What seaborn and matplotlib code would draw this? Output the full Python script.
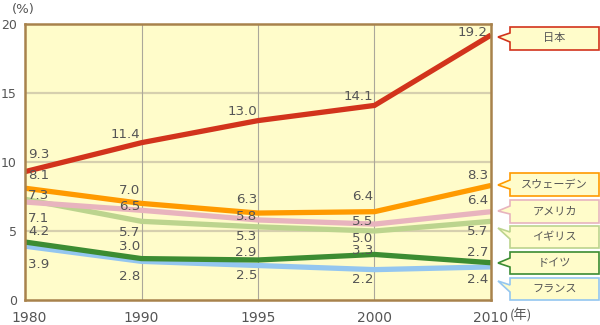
import matplotlib
matplotlib.use("Agg")
import matplotlib.pyplot as plt
import matplotlib.transforms as mtransforms
import seaborn as sns
import pandas as pd
from matplotlib.patches import Polygon

years = ["1980", "1990", "1995", "2000", "2010"]
countries = ["日本", "スウェーデン", "アメリカ", "イギリス", "ドイツ", "フランス"]
japan = [9.3, 11.4, 13.0, 14.1, 19.2]
sweden = [8.1, 7.0, 6.3, 6.4, 8.3]
usa = [7.1, 6.5, 5.8, 5.5, 6.4]
uk = [7.3, 5.7, 5.3, 5.0, 5.7]
germany = [4.2, 3.0, 2.9, 3.3, 2.7]
france = [3.9, 2.8, 2.5, 2.2, 2.4]
series = [japan, sweden, usa, uk, germany, france]

colors = {"日本": "#D2331C", "スウェーデン": "#FF9A00", "アメリカ": "#E8B4BE",
          "イギリス": "#BCD48E", "ドイツ": "#3C8C32", "フランス": "#94C6F0"}

# label offsets in pixels (positive = up)
label_dy = {
    "日本": [17, 8, 9, 9, 3],
    "スウェーデン": [13, 13, 14, 15, 10],
    "アメリカ": [-16, 4, 3, 3, 11],
    "イギリス": [4, -11, -10, -7, -10],
    "ドイツ": [11, 12, 7, 4, 10],
    "フランス": [-18, -15, -10, -10, -13],
}

rows = []
for c, vals in zip(countries, series):
    for i, v in enumerate(vals):
        rows.append({"country": c, "pos": i, "value": v})
df = pd.DataFrame(rows)

sns.set_theme(style="white")
plt.rcParams["font.family"] = ["DejaVu Sans", "Noto Sans CJK JP"]

W, H = 600, 325
fig = plt.figure(figsize=(6, 3.25), dpi=100)
ax = fig.add_axes([25 / W, 25 / H, 466 / W, 276 / H])
ax.set_facecolor("#FFFCCA")

for y in [5, 10, 15]:
    ax.axhline(y, color="#D6CFAE", lw=1.6, zorder=0)
for x in [1, 2, 3]:
    ax.axvline(x, color="#ABA79A", lw=0.8, zorder=0)

draw_order = ["フランス", "ドイツ", "イギリス", "アメリカ", "スウェーデン", "日本"]
sns.lineplot(data=df, x="pos", y="value", hue="country", hue_order=draw_order,
             palette=colors, linewidth=3.8, legend=False, ax=ax, zorder=3)
for line in ax.get_lines():
    line.set_solid_capstyle("butt")
    line.set_solid_joinstyle("miter")

ax.set_xlim(0, 4)
ax.set_ylim(0, 20)
ax.set_xticks(range(len(years)))
ax.set_xticklabels(years)
ax.set_yticks([0, 5, 10, 15, 20])
ax.set_xlabel("")
ax.set_ylabel("")
ax.tick_params(axis="both", length=0, labelcolor="#555555")
ax.tick_params(axis="x", pad=8, labelsize=10)
ax.tick_params(axis="y", pad=5.8, labelsize=9)
first = ax.get_xticklabels()[0]
first.set_transform(first.get_transform() +
                    mtransforms.ScaledTranslation(4.5 / 100, 0, fig.dpi_scale_trans))
for s in ax.spines.values():
    s.set_color("#A8824C")
    s.set_linewidth(1.8)
    s.set_zorder(5)

for c, vals in zip(countries, series):
    for i, v in enumerate(vals):
        if i == 0:
            dx, ha = 3, "left"
        elif i == len(vals) - 1:
            dx, ha = -3, "right"
        else:
            dx, ha = -1, "right"
        ax.annotate(f"{v:.1f}", (i, v), xytext=(dx, label_dy[c][i]),
                    textcoords="offset pixels", ha=ha, va="center",
                    fontsize=9.6, color="#555555", zorder=6)

fig.text(12 / W, 1 - 10 / H, "(%)", fontsize=9.5, color="#555555", va="center", ha="left")
fig.text(510 / W, 1 - 316 / H, "(年)", fontsize=9.5, color="#555555", va="center", ha="left",
         family=["Noto Sans CJK JP", "DejaVu Sans"])

# callout legend boxes: (country, box_top, box_bottom, tip_y, base_top, base_bottom)
callouts = [
    ("日本", 27, 50, 37, 33, 42),
    ("スウェーデン", 173, 196, 185, 180, 189),
    ("アメリカ", 200, 223, 211, 206, 214),
    ("イギリス", 226, 248, 228, 232, 239),
    ("ドイツ", 252, 274, 263, 258, 267),
    ("フランス", 278, 300, 281, 285, 292),
]
x0, x1, tipx = 510, 599, 498
for c, top, bot, tip, bt, bb in callouts:
    pts = [(x0, top), (x1, top), (x1, bot), (x0, bot), (x0, bb), (tipx, tip), (x0, bt)]
    pts = [(px / W, 1 - py / H) for px, py in pts]
    poly = Polygon(pts, closed=True, facecolor="#FFFCCA", edgecolor=colors[c],
                   lw=1.2, transform=fig.transFigure)
    fig.add_artist(poly)
    fig.text((x0 + x1) / 2 / W, 1 - (top + bot) / 2 / H, c, ha="center", va="center",
             fontsize=8, color="#555555", family=["Noto Sans CJK JP", "DejaVu Sans"])

fig.savefig("out.png", dpi=100, facecolor="white")
